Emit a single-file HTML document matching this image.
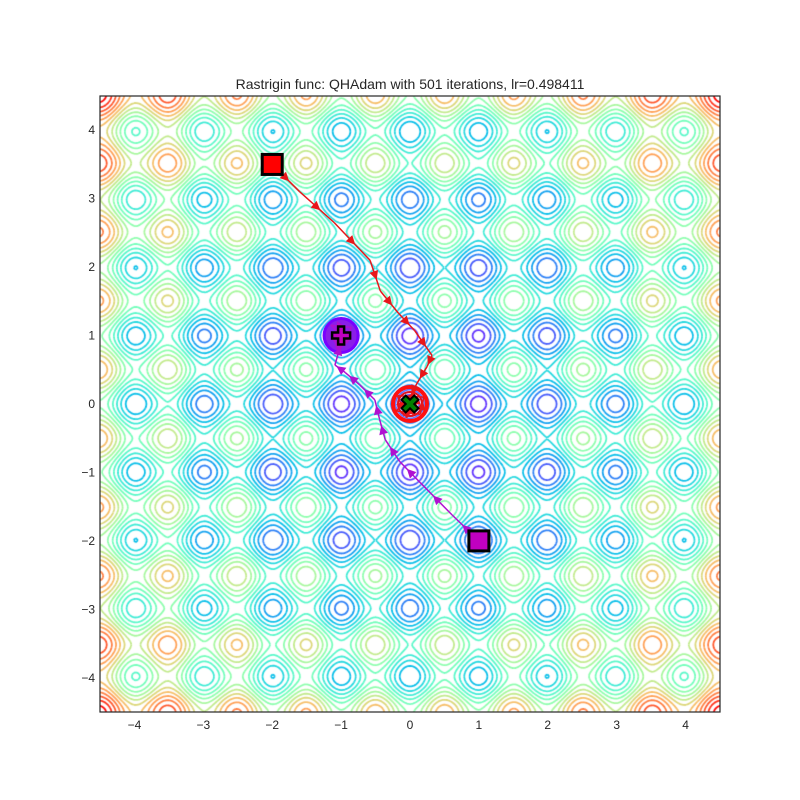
<!DOCTYPE html>
<html><head><meta charset="utf-8">
<style>
body{margin:0;background:#fff;}
#wrap{position:relative;width:800px;height:800px;background:#fff;font-family:"Liberation Sans",sans-serif;color:#262626;}
#cv{position:absolute;left:100px;top:96px;}
#ov{position:absolute;left:0;top:0;}
</style></head><body>
<div id="wrap">
<canvas id="cv" width="620" height="616"></canvas>
<svg id="ov" width="800" height="800"></svg>
</div>
<script>
// ---- data ----
const xTicks=[-4,-3,-2,-1,0,1,2,3,4];
const yTicks=[-4,-3,-2,-1,0,1,2,3,4];
const levelStart=3.45, levelStep=4.15;
const redX=[-2,-1.6,-1.1,-0.58,-0.43,-0.17,0.07,0.32,0.25,0.1,0.0,-0.2,0.15,0.2,-0.18,-0.05,0.12,0.02];
const redY=[3.5,3.1,2.65,2.1,1.65,1.33,1.07,0.71,0.55,0.3,0.1,-0.1,-0.15,0.1,0.12,-0.2,0.05,0.0];
const magX=[1,0.61,0.15,-0.15,-0.36,-0.44,-0.51,-0.73,-0.94,-1.09,-0.97,-1.15,-0.85,-1.0,-1.12,-0.9,-1.0];
const magY=[-2,-1.62,-1.15,-0.84,-0.52,-0.23,0.06,0.28,0.46,0.57,0.99,1.15,1.12,0.82,0.95,0.9,1.0];
const startRed=[-2,3.5], startMag=[1,-2], endMag=[-1,1], optimum=[0,0];

const L=100,T=96,W=620,H=616;
const sx=v=>L+(v+4.5)/9*W, sy=v=>T+(4.5-v)/9*H;
function f(x,y){return 20+x*x-10*Math.cos(2*Math.PI*x)+y*y-10*Math.cos(2*Math.PI*y);}
function rainbow(t){t=Math.max(0,Math.min(1,t));
 const r=Math.min(1,Math.abs(2*t-0.5)),g=Math.sin(Math.PI*t),b=Math.cos(Math.PI*t/2);
 return `rgb(${Math.round(r*255)},${Math.round(g*255)},${Math.round(b*255)})`;}

// ---- contours ----
const ctx=document.getElementById('cv').getContext('2d');
const N=420, step=9/N, Z=[];
for(let j=0;j<=N;j++){Z[j]=[];for(let i=0;i<=N;i++)Z[j][i]=f(-4.5+i*step,-4.5+j*step);}
const zmax=f(4.5,4.5);
ctx.lineWidth=1.8;
for(let lv=levelStart;lv<zmax;lv+=levelStep){
 ctx.strokeStyle=rainbow(lv/zmax+0.02);
 ctx.beginPath();
 for(let j=0;j<N;j++)for(let i=0;i<N;i++){
  const a=Z[j][i],b=Z[j][i+1],c=Z[j+1][i+1],d=Z[j+1][i];
  const pts=[];
  const X=i*step-4.5,Y=j*step-4.5;
  if((a<lv)!==(b<lv)){const t=(lv-a)/(b-a);pts.push([X+t*step,Y]);}
  if((b<lv)!==(c<lv)){const t=(lv-b)/(c-b);pts.push([X+step,Y+t*step]);}
  if((c<lv)!==(d<lv)){const t=(lv-c)/(d-c);pts.push([X+step-t*step,Y+step]);}
  if((d<lv)!==(a<lv)){const t=(lv-d)/(a-d);pts.push([X,Y+step-t*step]);}
  for(let p=0;p+1<pts.length;p+=2){
   ctx.moveTo(sx(pts[p][0])-L,sy(pts[p][1])-T);ctx.lineTo(sx(pts[p+1][0])-L,sy(pts[p+1][1])-T);}
 }
 ctx.stroke();
}

// ---- svg overlay ----
const svg=document.getElementById('ov'),NS='http://www.w3.org/2000/svg';
function el(tag,attrs,parent){const e=document.createElementNS(NS,tag);for(const k in attrs)e.setAttribute(k,attrs[k]);(parent||svg).appendChild(e);return e;}

let b1=el('circle',{cx:sx(endMag[0]),cy:sy(endMag[1]),r:17,fill:'#8a1ee8',stroke:'#7a00ff','stroke-width':3});


let b2=el('circle',{cx:sx(optimum[0]),cy:sy(optimum[1]),r:17,fill:'none',stroke:'#ff1010','stroke-width':4});


let b3=el('circle',{cx:sx(optimum[0]),cy:sy(optimum[1]),r:12,fill:'none',stroke:'#e01020','stroke-width':2});



function drawPath(xs,ys,color,name){
 const g=el('g',{});
 
 
 for(let i=0;i+1<xs.length;i++){
  const x1=sx(xs[i]),y1=sy(ys[i]),x2=sx(xs[i+1]),y2=sy(ys[i+1]);
  el('line',{x1,y1,x2,y2,stroke:color,'stroke-width':1.5},g);
  const mx=(x1+x2)/2,my=(y1+y2)/2,ang=Math.atan2(y2-y1,x2-x1);
  const s=9,w=4.5;
  const p=[[mx+Math.cos(ang)*s/2,my+Math.sin(ang)*s/2],
   [mx-Math.cos(ang)*s/2-Math.sin(ang)*w,my-Math.sin(ang)*s/2+Math.cos(ang)*w],
   [mx-Math.cos(ang)*s/2+Math.sin(ang)*w,my-Math.sin(ang)*s/2-Math.cos(ang)*w]];
  el('polygon',{points:p.map(q=>q.join(',')).join(' '),fill:color},g);
 }
}
drawPath(redX,redY,'#e8161a','red-trajectory');
drawPath(magX,magY,'#b010d0','magenta-trajectory');

let s1=el('rect',{x:sx(startRed[0])-10,y:sy(startRed[1])-10,width:20,height:20,fill:'#ff0000',stroke:'#000','stroke-width':3});


let s2=el('rect',{x:sx(startMag[0])-10,y:sy(startMag[1])-10,width:20,height:20,fill:'#c000c0',stroke:'#000','stroke-width':3});


{const cx=sx(endMag[0]),cy=sy(endMag[1]),a=3,b=9;
 let p=el('polygon',{points:`${cx-a},${cy-b} ${cx+a},${cy-b} ${cx+a},${cy-a} ${cx+b},${cy-a} ${cx+b},${cy+a} ${cx+a},${cy+a} ${cx+a},${cy+b} ${cx-a},${cy+b} ${cx-a},${cy+a} ${cx-b},${cy+a} ${cx-b},${cy-a} ${cx-a},${cy-a}`,fill:'#c000c0',stroke:'#000','stroke-width':2.5});
 
 }
{const cx=sx(optimum[0]),cy=sy(optimum[1]),a=3,b=9;
 let p=el('polygon',{points:`${cx-a},${cy-b} ${cx+a},${cy-b} ${cx+a},${cy-a} ${cx+b},${cy-a} ${cx+b},${cy+a} ${cx+a},${cy+a} ${cx+a},${cy+b} ${cx-a},${cy+b} ${cx-a},${cy+a} ${cx-b},${cy+a} ${cx-b},${cy-a} ${cx-a},${cy-a}`,fill:'#008000',stroke:'#000','stroke-width':2,transform:`rotate(45 ${cx} ${cy})`});
 
 }

let fr=el('rect',{x:L,y:T,width:W,height:H,fill:'none',stroke:'#262626','stroke-width':1.2});


xTicks.forEach(v=>{
 let t=el('text',{x:sx(v),y:729,'text-anchor':'middle','font-size':12,fill:'#262626'});
 t.textContent=(v<0?'\u2212':'')+Math.abs(v);
 
 
});
yTicks.forEach(v=>{
 let t=el('text',{x:95,y:sy(v)+4,'text-anchor':'end','font-size':12,fill:'#262626'});
 t.textContent=(v<0?'\u2212':'')+Math.abs(v);
 
 
});
let ti=el('text',{x:410,y:89,'text-anchor':'middle','font-size':14,fill:'#262626'});
ti.textContent='Rastrigin func: QHAdam with 501 iterations, lr=0.498411';


</script>
</body></html>
